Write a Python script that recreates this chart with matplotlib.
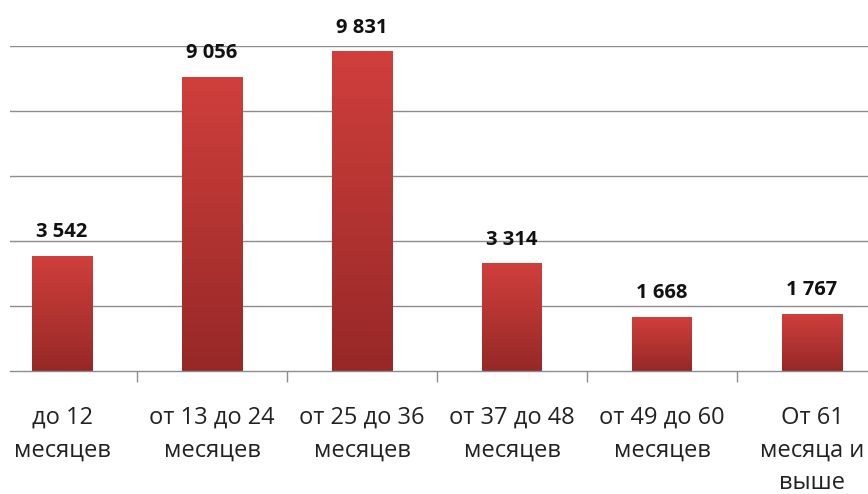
import numpy as np
import matplotlib.pyplot as plt
from matplotlib.colors import LinearSegmentedColormap

plt.rcParams['font.family'] = ['Open Sans', 'DejaVu Sans']

categories = ['до 12\nмесяцев', 'от 13 до 24\nмесяцев', 'от 25 до 36\nмесяцев',
              'от 37 до 48\nмесяцев', 'от 49 до 60\nмесяцев', 'От 61\nмесяца и\nвыше']
values = [3542, 9056, 9831, 3314, 1668, 1767]
value_labels = ['3 542', '9 056', '9 831', '3 314', '1 668', '1 767']

fig = plt.figure(figsize=(8.68, 4.94), dpi=100)
# axes: left edge at 10 px, baseline at 371 px, 10000-line at 46 px
ax = fig.add_axes([10 / 868, 123 / 494, 858 / 868, 325 / 494])

x = np.arange(len(values))

grid_col = '#8c8c8c'
for gy in range(2000, 10001, 2000):
    ax.axhline(gy, color=grid_col, lw=1, zorder=0)

for s in ['top', 'right', 'left']:
    ax.spines[s].set_visible(False)
ax.spines['bottom'].set_color(grid_col)
ax.spines['bottom'].set_linewidth(1)

cmap = LinearSegmentedColormap.from_list('red_grad', ['#962827', '#b33432', '#d03f3c'])
grad = np.linspace(0, 1, 256).reshape(-1, 1)

bars = ax.bar(x, values, width=0.4, color='none', edgecolor='none', zorder=2)
for b, lab in zip(bars, value_labels):
    x0, w, h = b.get_x(), b.get_width(), b.get_height()
    im = ax.imshow(grad, cmap=cmap, origin='lower', aspect='auto',
                   extent=[x0, x0 + w, 0, h], zorder=2)
    im.set_clip_path(b)
    ax.annotate(lab, (x0 + w / 2, h), xytext=(0, 13.5), textcoords='offset points',
                ha='center', va='baseline', fontsize=14.5, fontweight='bold', color='#111111')

ax.set_xlim((10 - 62) / 150, (868 - 62) / 150)
ax.set_ylim(0, 10000)

ax.set_yticks([])
ax.set_xticks(x)
ax.set_xticklabels(categories, fontsize=17, linespacing=1.48, color='#222222')
ax.tick_params(axis='x', which='major', length=0, pad=25)
ax.set_xticks(np.arange(0.5, len(values) - 1, 1.0), minor=True)
ax.tick_params(axis='x', which='minor', length=8, width=1, color=grid_col)

fig.savefig('out.png', dpi=100)
